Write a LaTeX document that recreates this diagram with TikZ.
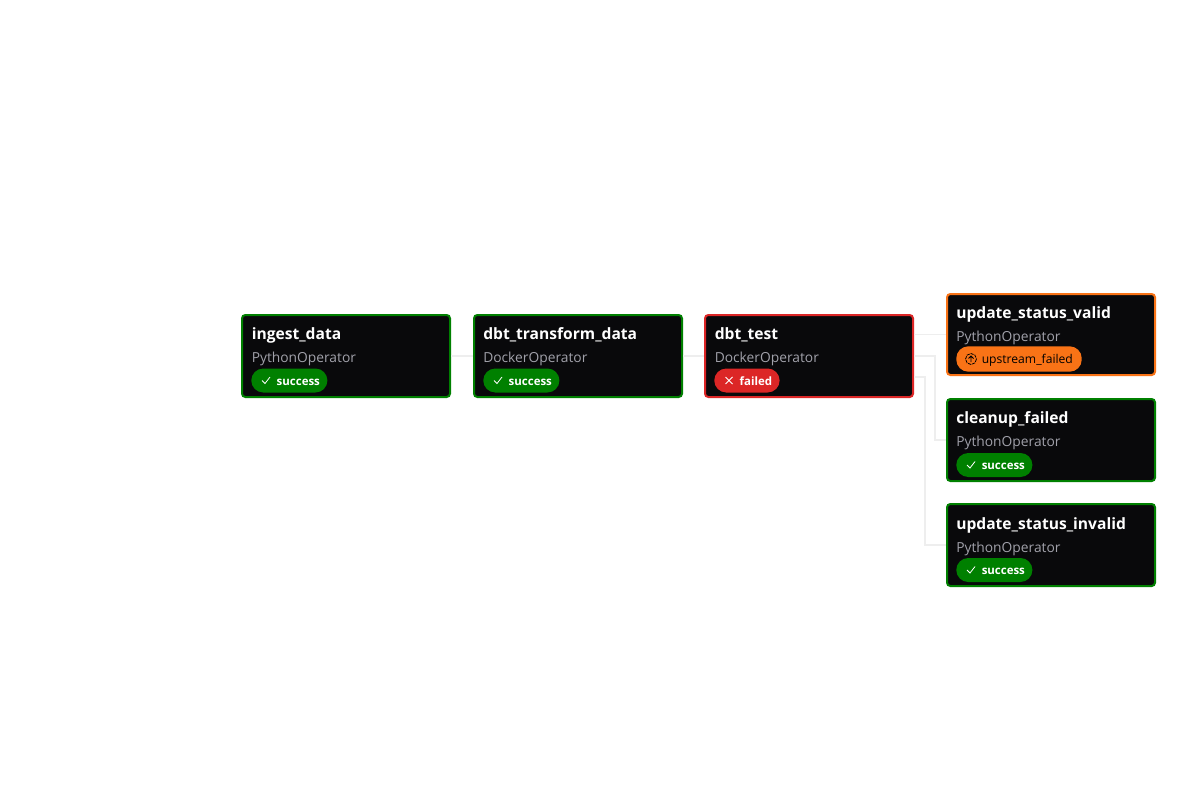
\documentclass[tikz,border=0pt]{standalone}
\usepackage{fontspec}
\setmainfont{Open Sans}
\usepackage{xcolor}
\definecolor{boxfill}{HTML}{09090B}
\definecolor{okgreen}{HTML}{008000}
\definecolor{failred}{HTML}{DC2626}
\definecolor{upamber}{HTML}{F97316}
\definecolor{opgray}{HTML}{A1A1AA}
\definecolor{edgegray}{HTML}{EEEEEE}
\tikzset{
    taskbox/.style={fill=boxfill, line width=1.5pt, rounded corners=2.5pt, anchor=north west, minimum width=156pt, inner sep=0pt},
    tasktitle/.style={anchor=base west, inner sep=0pt, text=white, font=\fontsize{11.7}{14}\selectfont\bfseries},
    taskop/.style={anchor=base west, inner sep=0pt, text=opgray, font=\fontsize{10.35}{12}\selectfont},
    badge/.style={anchor=west, inner xsep=0pt, inner ysep=0pt, minimum height=18pt, text height=6.8pt, text depth=0pt, rounded corners=9pt, text=white, font=\fontsize{8.6}{11}\selectfont\bfseries},
    edgeline/.style={edgegray, line width=1pt},
    checkmark/.pic={\draw[white, line width=0.6pt] (-4,0) -- (-1,3) -- (4,-3.5);},
    crossmark/.pic={\draw[white, line width=0.6pt] (-3.5,-3.5) -- (3.5,3.5) (-3.5,3.5) -- (3.5,-3.5);},
    upmark/.pic={\draw[black, line width=0.6pt, dash pattern=on 2.4pt off 0.7pt] (0,0) circle (5.5); \draw[black, line width=0.6pt] (0,3) -- (0,-3) (-2.5,-0.5) -- (0,-3) -- (2.5,-0.5);}
}

\begin{document}
\begin{tikzpicture}[x=0.75pt, y=-0.75pt]
    \useasboundingbox[fill=white] (0,0) rectangle (1187,796);

    % Task boxes
    \node[taskbox, draw=okgreen, minimum height=61.5pt] (ingestdata) at (241,314) {};
    \node[taskbox, draw=okgreen, minimum height=61.5pt] (transformdata) at (473,314) {};
    \node[taskbox, draw=failred, minimum height=61.5pt] (dbttest) at (704,314) {};
    \node[taskbox, draw=upamber, minimum height=60.75pt] (statusvalid) at (946,293) {};
    \node[taskbox, draw=okgreen, minimum height=61.5pt] (cleanupfailed) at (946,398) {};
    \node[taskbox, draw=okgreen, minimum height=61.5pt] (statusinvalid) at (946,503) {};

    % Connectors
    \coordinate (testlow) at (914,377);
    \coordinate (bendcleanup) at (935,356);
    \coordinate (bendinvalid) at (925,377);
    \draw[edgeline] (ingestdata.east) -- (transformdata.west);
    \draw[edgeline] (transformdata.east) -- (dbttest.west);
    \draw[edgeline] (dbttest.east |- statusvalid.west) -- (statusvalid.west);
    \draw[edgeline] (dbttest.east) -- (bendcleanup) |- (cleanupfailed.west);
    \draw[edgeline] (testlow) -- (bendinvalid) |- (statusinvalid.west);

    % Titles
    \node[tasktitle] (ingesttitle) at (251.5,339) {ingest\_data};
    \node[tasktitle] (transformtitle) at (483,339) {dbt\_transform\_data};
    \node[tasktitle] (testtitle) at (714.5,339) {dbt\_test};
    \node[tasktitle] (validtitle) at (956,318) {update\_status\_valid};
    \node[tasktitle] (cleanuptitle) at (956,423) {cleanup\_failed};
    \node[tasktitle] (invalidtitle) at (956,529) {update\_status\_invalid};

    % Operators
    \node[taskop] (ingestop) at (251.5,362) {PythonOperator};
    \node[taskop] (transformop) at (483,362) {DockerOperator};
    \node[taskop] (testop) at (714.5,362) {DockerOperator};
    \node[taskop] (validop) at (956,341) {PythonOperator};
    \node[taskop] (cleanupop) at (956,446) {PythonOperator};
    \node[taskop] (invalidop) at (956,552) {PythonOperator};

    % Badges
    \node[badge, fill=okgreen] (ingestbadge) at (251,380.5) {\hspace*{19.1pt}success\hspace*{5.6pt}};
    \node[badge, fill=okgreen] (transformbadge) at (483,380.5) {\hspace*{19.1pt}success\hspace*{5.6pt}};
    \node[badge, fill=failred] (testbadge) at (714,380.5) {\hspace*{19.1pt}failed\hspace*{5.6pt}};
    \node[badge, fill=upamber, text=black, minimum height=19pt, font=\fontsize{9.1}{11}\selectfont] (validbadge) at (956,359) {\hspace*{19.1pt}upstream\_failed\hspace*{6.6pt}};
    \node[badge, fill=okgreen] (cleanupbadge) at (956,465) {\hspace*{19.1pt}success\hspace*{5.6pt}};
    \node[badge, fill=okgreen] (invalidbadge) at (956,570) {\hspace*{19.1pt}success\hspace*{5.6pt}};

    % Status icons
    \pic at ([xshift=11.25pt]ingestbadge.west) {checkmark};
    \pic at ([xshift=11.25pt]transformbadge.west) {checkmark};
    \pic at ([xshift=11.25pt]testbadge.west) {crossmark};
    \pic at ([xshift=11.25pt]validbadge.west) {upmark};
    \pic at ([xshift=11.25pt]cleanupbadge.west) {checkmark};
    \pic at ([xshift=11.25pt]invalidbadge.west) {checkmark};
\end{tikzpicture}
\end{document}
